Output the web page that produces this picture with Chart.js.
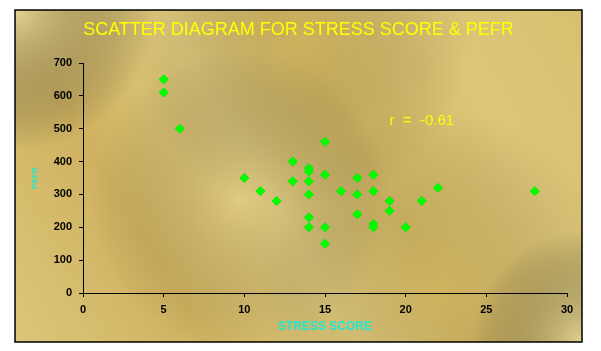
<!DOCTYPE html>
<html>
<head>
<meta charset="utf-8">
<script src="https://cdn.jsdelivr.net/npm/chart.js@4"></script>
<style>
  html, body { margin: 0; padding: 0; background: #fff; }
  #wrap { width: 601px; height: 351px; }
</style>
</head>
<body>
<div id="wrap"><canvas id="myChart" width="601" height="351"></canvas></div>
<script>
// values
let stressScore = [5, 5, 6, 10, 11, 12, 13, 13, 14, 14, 14, 14, 14, 14, 15, 15, 15, 15, 16, 17, 17, 17, 18, 18, 18, 18, 19, 19, 20, 21, 22, 28];
let pefr = [650, 610, 500, 350, 310, 280, 400, 340, 380, 370, 340, 300, 230, 200, 460, 360, 200, 150, 310, 350, 300, 240, 360, 310, 210, 200, 280, 250, 200, 280, 320, 310];
let xTicks = [0, 5, 10, 15, 20, 25, 30];
let yTicks = [0, 100, 200, 300, 400, 500, 600, 700];
let chartTitle = "SCATTER DIAGRAM FOR STRESS SCORE & PEFR";
let rLabel = "r  =  -0.61";

let points = stressScore.map(function (s, i) { return { x: s, y: pefr[i] }; });

let box = { x0: 15, y0: 10, x1: 582, y1: 342 };

function blob(c, x, y, r, col) {
    let g = c.createRadialGradient(x, y, 0, x, y, r);
    g.addColorStop(0, col);
    g.addColorStop(1, "rgba(0,0,0,0)");
    c.fillStyle = g;
    c.fillRect(box.x0, box.y0, box.x1 - box.x0, box.y1 - box.y0);
}

// gold frame behind everything, title and r label on top
let frame = {
    id: "frame",
    beforeDraw: function (chart) {
        let c = chart.ctx;
        c.save();
        c.fillStyle = "#ffffff";
        c.fillRect(0, 0, chart.width, chart.height);
        let g = c.createLinearGradient(box.x0, box.y1, box.x1, box.y0);
        g.addColorStop(0, "#dcc67a");
        g.addColorStop(0.25, "#cfb260");
        g.addColorStop(0.45, "#dfca7e");
        g.addColorStop(0.6, "#d3b966");
        g.addColorStop(0.8, "#dcc678");
        g.addColorStop(1, "#d8c070");
        c.fillStyle = g;
        c.fillRect(box.x0, box.y0, box.x1 - box.x0, box.y1 - box.y0);
        blob(c, 15, 10, 140, "rgba(238,228,170,0.7)");
        blob(c, 300, 40, 170, "rgba(196,160,72,0.3)");
        blob(c, 440, 290, 180, "rgba(196,160,72,0.25)");
        blob(c, 582, 342, 110, "rgba(238,228,170,0.6)");
        blob(c, 240, 200, 150, "rgba(234,218,145,0.3)");
        c.beginPath();
        c.rect(box.x0, box.y0, box.x1 - box.x0, box.y1 - box.y0);
        c.strokeStyle = "#000";
        c.lineWidth = 1.5;
        c.stroke();
        c.restore();
    },
    afterDraw: function (chart) {
        let c = chart.ctx;
        let sx = chart.scales.x, sy = chart.scales.y;
        c.save();
        c.fillStyle = "#ffff00";
        c.textBaseline = "middle";
        c.font = "18px 'Liberation Sans', Arial";
        c.textAlign = "center";
        c.fillText(chartTitle, (box.x0 + box.x1) / 2, 30);
        c.font = "15px 'Liberation Sans', Arial";
        c.textAlign = "left";
        c.fillText(rLabel, sx.getPixelForValue(19), sy.getPixelForValue(524));
        c.restore();
    }
};

let ctx = document.getElementById("myChart").getContext("2d");

new Chart(ctx, {
    type: "scatter",
    data: {
        datasets: [{
            data: points,
            pointStyle: "rectRot",
            pointRadius: 4.5,
            pointHoverRadius: 4.5,
            backgroundColor: "#00ff00",
            borderColor: "#00ee00",
            borderWidth: 1
        }]
    },
    options: {
        responsive: false,
        animation: false,
        layout: { padding: { left: 28, right: 34, top: 63, bottom: 15 } },
        plugins: {
            legend: { display: false },
            tooltip: { enabled: false },
            title: { display: false }
        },
        scales: {
            x: {
                type: "linear",
                min: 0,
                max: 30,
                afterBuildTicks: function (s) { s.ticks = xTicks.map(function (v) { return { value: v }; }); },
                afterFit: function (s) { s.height = 43; },
                grid: { display: true, drawOnChartArea: false, drawTicks: true, tickLength: 4, color: "#000" },
                border: { color: "#000", width: 1 },
                ticks: { color: "#000", padding: 6, font: { family: "'Liberation Sans', Arial", size: 11, weight: "bold" } },
                title: {
                    display: true,
                    text: "STRESS SCORE",
                    color: "#22e8d0",
                    font: { family: "'Liberation Sans', Arial", size: 12, weight: "bold" },
                    padding: { top: 4, bottom: 2 }
                }
            },
            y: {
                type: "linear",
                min: 0,
                max: 700,
                afterBuildTicks: function (s) { s.ticks = yTicks.map(function (v) { return { value: v }; }); },
                afterFit: function (s) { s.width = 55; },
                grid: { display: true, drawOnChartArea: false, drawTicks: true, tickLength: 4, color: "#000" },
                border: { color: "#000", width: 1 },
                ticks: { color: "#000", padding: 7, font: { family: "'Liberation Sans', Arial", size: 11, weight: "bold" } },
                title: {
                    display: true,
                    text: "PEFR",
                    color: "#22e8d0",
                    font: { family: "'Liberation Sans', Arial", size: 8, weight: "bold" },
                    padding: { top: 2, bottom: 2 }
                }
            }
        }
    },
    plugins: [frame]
});
</script>
</body>
</html>
